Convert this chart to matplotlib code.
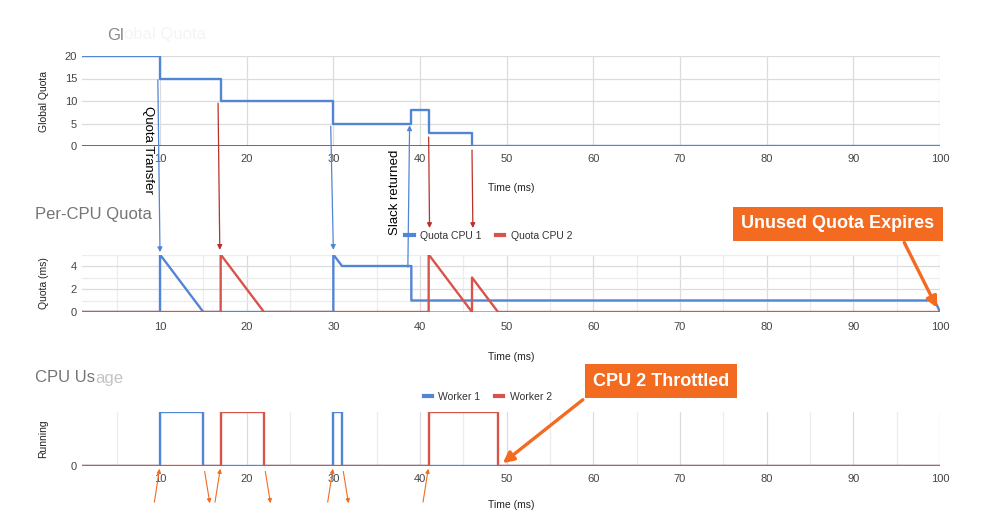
import matplotlib
matplotlib.use('Agg')
import matplotlib.pyplot as plt
from matplotlib.patches import ConnectionPatch

plt.rcParams['font.family'] = ['Liberation Sans', 'DejaVu Sans']

# global quota (step, post)
global_t = [1, 10, 17, 30, 39, 41, 46, 100]
global_q = [20, 15, 10, 5, 8, 3, 0, 0]

# per-cpu quota vertices
cpu1_t = [1, 10, 10, 15, 30, 30, 31, 39, 39, 99.4, 100]
cpu1_q = [0, 0, 5, 0, 0, 5, 4, 4, 1, 1, 0]
cpu2_t = [1, 17, 17, 22, 41, 41, 46, 46, 49, 100]
cpu2_q = [0, 0, 5, 0, 0, 5, 0, 3, 0, 0]

# cpu usage
w1_t = [1, 10, 10, 15, 15, 30, 30, 31, 31, 100]
w1_r = [0, 0, 1, 1, 0, 0, 1, 1, 0, 0]
w2_t = [1, 17, 17, 22, 22, 41, 41, 49, 49, 100]
w2_r = [0, 0, 1, 1, 0, 0, 1, 1, 0, 0]

x_ticks = [10, 20, 30, 40, 50, 60, 70, 80, 90, 100]
usage_up = [10, 17, 30, 41]
usage_down = [15, 22, 31]

BLUE = '#5385d6'
RED = '#d8544b'
DRED = '#b8322c'
ORANGE = '#f26b21'
GRID = '#dcdcdc'
GRID2 = '#ececec'
W, H = 988, 512


def rect(l, t, r, b):
    return [l / W, 1 - b / H, (r - l) / W, (b - t) / H]


def px(x, y):
    return x / W, 1 - y / H


fig = plt.figure(figsize=(W / 100, H / 100), dpi=100)
fig.patch.set_facecolor('white')

ax1 = fig.add_axes(rect(82, 56, 940, 146))
ax2 = fig.add_axes(rect(82, 254.5, 940, 312))
ax3 = fig.add_axes(rect(82, 412, 940, 466))

for ax in (ax1, ax2, ax3):
    ax.set_xlim(1, 100)
    ax.set_xticks(x_ticks)
    for s in ax.spines.values():
        s.set_visible(False)
    ax.tick_params(length=0, labelsize=8, labelcolor='#444444', which='both')
    ax.set_axisbelow(True)

# top chart
ax1.set_ylim(0, 20)
ax1.set_yticks([0, 5, 10, 15, 20])
ax1.grid(True, color=GRID, lw=0.9)
ax1.axhline(0, color='#444444', lw=1.1, zorder=1)
ax1.step(global_t, global_q, where='post', color=BLUE, lw=1.7, zorder=3)
ax1.set_ylabel('Global Quota', fontsize=7.5, color='#222222')
ax1.yaxis.set_label_coords(-0.039, 0.5)
ax1.set_xlabel('Time (ms)', fontsize=7.5, color='#222222')
ax1.xaxis.set_label_coords(0.5, -0.41)
ax1.tick_params(axis='x', pad=6)

# per-cpu chart
ax2.set_ylim(0, 5)
ax2.set_yticks([0, 2, 4])
ax2.set_yticks([1, 3, 5], minor=True)
ax2.set_xticks([5, 15, 25, 35, 45, 55, 65, 75, 85, 95], minor=True)
ax2.grid(True, which='major', color=GRID, lw=0.9)
ax2.grid(True, which='minor', color=GRID2, lw=0.9)
ax2.axhline(0, color='#999999', lw=1.1, zorder=1)
ax2.plot(cpu1_t, cpu1_q, color=BLUE, lw=1.7, label='Quota CPU 1', zorder=3)
ax2.plot(cpu2_t, cpu2_q, color=RED, lw=1.7, label='Quota CPU 2', zorder=4)
ax2.set_ylabel('Quota (ms)', fontsize=7.5, color='#222222')
ax2.yaxis.set_label_coords(-0.039, 0.5)
ax2.set_xlabel('Time (ms)', fontsize=7.5, color='#222222')
ax2.xaxis.set_label_coords(0.5, -0.70)
ax2.tick_params(axis='x', pad=7)
ax2.legend(loc='center', bbox_to_anchor=(0.474, 1.32), ncol=2, frameon=False,
           fontsize=7.5, handlelength=0.8, handletextpad=0.6, columnspacing=1.4,
           labelcolor='#333333')
for h in ax2.get_legend().get_lines():
    h.set_linewidth(3)

# cpu usage chart
ax3.set_ylim(0, 1)
ax3.set_yticks([0])
ax3.set_xticks([5, 15, 25, 35, 45, 55, 65, 75, 85, 95], minor=True)
ax3.grid(True, axis='x', which='major', color=GRID, lw=0.9)
ax3.grid(True, axis='x', which='minor', color=GRID2, lw=0.9)
ax3.axhline(0, color='#999999', lw=1.1, zorder=1)
ax3.plot(w1_t, w1_r, color=BLUE, lw=1.7, label='Worker 1', zorder=3)
ax3.plot(w2_t, w2_r, color=RED, lw=1.7, label='Worker 2', zorder=4)
ax3.set_ylabel('Running', fontsize=7.5, color='#222222')
ax3.yaxis.set_label_coords(-0.039, 0.5)
ax3.set_xlabel('Time (ms)', fontsize=7.5, color='#222222')
ax3.xaxis.set_label_coords(0.5, -0.63)
ax3.tick_params(axis='x', pad=6)
ax3.legend(loc='center', bbox_to_anchor=(0.473, 1.28), ncol=2, frameon=False,
           fontsize=7.5, handlelength=0.8, handletextpad=0.6, columnspacing=1.4,
           labelcolor='#333333')
for h in ax3.get_legend().get_lines():
    h.set_linewidth(3)

# titles (the reference has partly faded titles)
t1 = fig.text(*px(107, 35), 'Gl', fontsize=12, color='#8a8a8a', va='center')
fig.add_artist(plt.Annotation('obal Quota', xy=(1, 0), xycoords=t1,
                              fontsize=12, color='#f4f4f4', va='bottom'))
fig.text(*px(35, 214), 'Per-CPU Quota', fontsize=12, color='#757575', va='center')
t3 = fig.text(*px(35, 378), 'CPU Us', fontsize=12, color='#757575', va='center')
fig.add_artist(plt.Annotation('age', xy=(1, 0), xycoords=t3,
                              fontsize=12, color='#c4c4c4', va='bottom'))

# transfer arrows between the top two charts
transfers = [
    ((9.75, 14.7), (10, 5.2), BLUE, ax1, ax2),
    ((16.7, 9.5), (16.9, 5.4), DRED, ax1, ax2),
    ((29.7, 4.4), (30, 5.4), BLUE, ax1, ax2),
    ((38.6, 3.9), (38.8, 4.6), BLUE, ax2, ax1),
    ((41.0, 2.0), (41.1, 7.3), DRED, ax1, ax2),
    ((46.0, -0.9), (46.1, 7.3), DRED, ax1, ax2),
]
for a, b, c, axa, axb in transfers:
    cp = ConnectionPatch(a, b, coordsA=axa.transData, coordsB=axb.transData,
                         arrowstyle='-|>', mutation_scale=7, color=c, lw=0.9)
    fig.add_artist(cp)

fig.text(*px(148, 150), 'Quota Transfer', fontsize=9.5, rotation=270,
         ha='center', va='center', color='black')
fig.text(*px(395, 192), 'Slack returned', fontsize=9.5, rotation=90,
         ha='center', va='center', color='black')

# small orange arrows at worker transitions
for t in usage_up:
    ax3.annotate('', xy=(t, 0), xytext=(t - 0.7, -0.72), annotation_clip=False,
                 arrowprops=dict(arrowstyle='-|>', color=ORANGE, lw=0.8,
                                 mutation_scale=6))
for t in usage_down:
    ax3.annotate('', xy=(t + 0.8, -0.74), xytext=(t + 0.1, -0.05),
                 annotation_clip=False,
                 arrowprops=dict(arrowstyle='-|>', color=ORANGE, lw=0.8,
                                 mutation_scale=6))

# callouts
fig.text(*px(838, 224), 'Unused Quota Expires', fontsize=13, fontweight='bold',
         color='white', ha='center', va='center',
         bbox=dict(boxstyle='square,pad=0.45', fc=ORANGE, ec='none'))
ax2.annotate('', xy=(99.8, 0.15), xytext=(903, H - 240),
             textcoords='figure pixels', annotation_clip=False,
             arrowprops=dict(arrowstyle='-|>', color=ORANGE, lw=2.4,
                             mutation_scale=16))

fig.text(*px(661, 381), 'CPU 2 Throttled', fontsize=13, fontweight='bold',
         color='white', ha='center', va='center',
         bbox=dict(boxstyle='square,pad=0.45', fc=ORANGE, ec='none'))
ax3.annotate('', xy=(49.3, 0.02), xytext=(585, H - 398),
             textcoords='figure pixels', annotation_clip=False,
             arrowprops=dict(arrowstyle='-|>', color=ORANGE, lw=2.4,
                             mutation_scale=16))

fig.savefig('out.png', dpi=100, facecolor='white')
